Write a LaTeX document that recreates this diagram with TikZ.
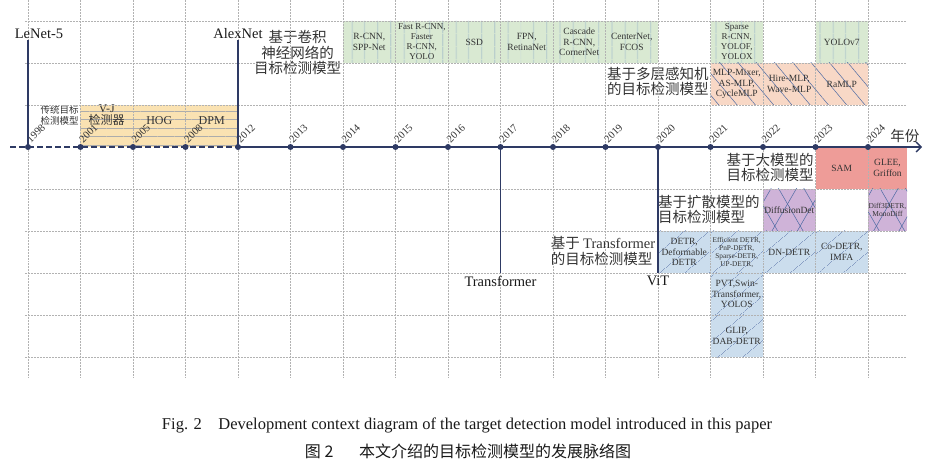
\documentclass[tikz,border=0pt]{standalone}
\usepackage{fontspec}
\setmainfont{Liberation Serif}
\newfontfamily\cjk{Noto Sans CJK SC}
\usetikzlibrary{arrows.meta,positioning,patterns.meta}

\definecolor{axisnavy}{HTML}{2E3A64}
\definecolor{tradfill}{HTML}{FAE2B2}
\definecolor{cnnfill}{HTML}{D9E9D2}
\definecolor{cnnline}{HTML}{7C9CC2}
\definecolor{mlpfill}{HTML}{F8D8C6}
\definecolor{bigfill}{HTML}{EE9C98}
\definecolor{difffill}{HTML}{CFB3D8}
\definecolor{trsfill}{HTML}{CBDDED}
\definecolor{hatchblue}{HTML}{4D6AA3}

\tikzset{
  gridline/.style={gray!60, densely dotted, line width=0.5pt},
  axisline/.style={axisnavy, line width=1.3pt},
  milestone/.style={axisnavy, line width=1.4pt},
  yeardot/.style={circle, fill=axisnavy, inner sep=0pt, minimum size=6pt},
  yearlab/.style={rotate=45, anchor=south west, inner sep=1pt, text=black!80, font=\fontsize{10.5}{10.5}\selectfont},
  mslab/.style={inner sep=1pt, text=black!90, font=\fontsize{14.5}{15}\selectfont},
  catlab/.style={inner sep=0pt, text=black!80, font=\cjk\fontsize{14.5}{15.5}\selectfont},
  cellbox/.style={minimum width=52.5pt, minimum height=42pt, inner sep=0pt, outer sep=0pt,
    align=center, text=black!80, font=\fontsize{9.5}{10.5}\selectfont},
  narrow/.style={minimum width=39pt},
  tradbox/.style={cellbox, minimum width=157.5pt, fill=tradfill,
    postaction={pattern={Lines[angle=0,distance=8.5pt,line width=0.6pt]}, pattern color=gray!65}},
  tradtext/.style={inner sep=0pt, align=center, text=black!80, font=\fontsize{12}{12}\selectfont},
  cnncell/.style={cellbox, fill=cnnfill,
    postaction={pattern={Lines[angle=90,distance=13pt,line width=0.6pt]}, pattern color=cnnline}},
  mlpcell/.style={cellbox, fill=mlpfill,
    postaction={pattern={Lines[angle=-50,distance=14pt,line width=0.5pt]}, pattern color=hatchblue}},
  bigcell/.style={cellbox, fill=bigfill},
  diffcell/.style={cellbox, fill=difffill,
    postaction={pattern={Lines[angle=60,distance=22pt,line width=0.5pt]}, pattern color=hatchblue},
    postaction={pattern={Lines[angle=120,distance=22pt,line width=0.5pt]}, pattern color=hatchblue}},
  trscell/.style={cellbox, fill=trsfill,
    postaction={pattern={Lines[angle=40,distance=17pt,line width=0.5pt]}, pattern color=hatchblue}},
}

\begin{document}
\begin{tikzpicture}[x=52.5pt, y=42pt, >=stealth]
  \useasboundingbox (-0.5333,-7.6429) rectangle (17.2,3.5);

  % Traditional models
  \node[tradbox] (tradbox) at (2.5,0.5) {};
  \node[tradtext] (vj)  at (1.5,0.76) {V-J\\{\cjk 检测器}};
  \node[tradtext] (hog) at (2.5,0.64) {HOG};
  \node[tradtext] (dpm) at (3.5,0.64) {DPM};
  \node[inner sep=0pt, anchor=east, align=center, text=black!80, font=\cjk\fontsize{9.5}{11}\selectfont]
    (tradlab) at (0.97,0.76) {传统目标\\检测模型};

  % CNN based models
  \node[cnncell] (rcnn)      at (6.5,2.5)  {R-CNN,\\SPP-Net};
  \node[cnncell, font=\fontsize{9}{10}\selectfont] (fastrcnn) at (7.5,2.5) {Fast R-CNN,\\Faster\\R-CNN,\\YOLO};
  \node[cnncell] (ssd)       at (8.5,2.5)  {SSD};
  \node[cnncell] (fpn)       at (9.5,2.5)  {FPN,\\RetinaNet};
  \node[cnncell] (cascade)   at (10.5,2.5) {Cascade\\R-CNN,\\CornerNet};
  \node[cnncell] (centernet) at (11.5,2.5) {CenterNet,\\FCOS};
  \node[cnncell, font=\fontsize{9}{10}\selectfont] (sparse) at (13.5,2.5) {Sparse\\R-CNN,\\YOLOF,\\YOLOX};
  \node[cnncell] (yolov7)    at (15.5,2.5) {YOLOv7};
  \node[catlab, anchor=east, align=center] (cnnlab) at (5.97,2.24) {基于卷积\\神经网络的\\目标检测模型};

  % MLP based models
  \node[mlpcell] (mlpmixer) at (13.5,1.5) {MLP-Mixer,\\AS-MLP,\\CycleMLP};
  \node[mlpcell] (hiremlp)  at (14.5,1.5) {Hire-MLP,\\Wave-MLP};
  \node[mlpcell] (ramlp)    at (15.5,1.5) {RaMLP};
  \node[catlab, anchor=east, align=left] (mlplab) at (12.97,1.56) {基于多层感知机\\的目标检测模型};

  % Large models
  \node[bigcell] (sam)  at (15.5,-0.5) {SAM};
  \node[bigcell, narrow] (glee) at (16.3714,-0.5) {GLEE,\\Griffon};
  \node[catlab, anchor=east, align=left] (biglab) at (14.97,-0.49) {基于大模型的\\目标检测模型};

  % Diffusion models
  \node[diffcell] (diffdet) at (14.5,-1.5) {DiffusionDet};
  \node[diffcell, narrow, font=\fontsize{7.5}{8.5}\selectfont] (diff3d) at (16.3714,-1.5) {Diff3DETR,\\MonoDiff};
  \node[catlab, anchor=west, align=left] (difflab) at (12.0,-1.49) {基于扩散模型的\\目标检测模型};

  % Transformer based models
  \node[trscell] (detr)    at (12.5,-2.5) {DETR,\\Deformable\\DETR};
  \node[trscell, font=\fontsize{7.3}{8}\selectfont] (effdetr) at (13.5,-2.5) {Efficient DETR,\\PnP-DETR,\\Sparse-DETR,\\UP-DETR,};
  \node[trscell] (dndetr)  at (14.5,-2.5) {DN-DETR};
  \node[trscell] (codetr)  at (15.5,-2.5) {Co-DETR,\\IMFA};
  \node[trscell] (pvt)     at (13.5,-3.5) {PVT,Swin-\\Transformer,\\YOLOS};
  \node[trscell] (glip)    at (13.5,-4.5) {GLIP,\\DAB-DETR};
  \node[catlab, anchor=east, align=left] (trslab) at (11.95,-2.48) {基于 {\rmfamily Transformer}\\的目标检测模型};

  % grid
  \foreach \i in {0,...,16}
    \draw[gridline] (\i,3.5) -- (\i,-5.5);
  \foreach \j in {3,2,1,-1,-2,-3,-4,-5}
    \draw[gridline] (-0.06,\j) -- (16.74,\j);

  % time axis
  \foreach \yr [count=\i from 0] in {1998,2001,2005,2008,2012,2013,2014,2015,2016,2017,2018,2019,2020,2021,2022,2023,2024} {
    \node[yeardot] (y\yr) at (\i,0) {};
    \node[yearlab] (t\yr) at ([shift={(3pt,2pt)}]y\yr.center) {\yr};
  }
  \coordinate (axstart) at (-0.34,0);
  \coordinate (axend) at (17.03,0);
  \draw[axisline, dash pattern=on 6pt off 3pt] (axstart) -- (y2012.center);
  \draw[axisline, -{Straight Barb[length=5pt,width=10pt]}] (y2012.center) -- (axend);
  \node[catlab] (yearword) at (16.7,0.27) {年份};

  % milestones
  \node[mslab, anchor=south] (lenet) at (0.21,2.55) {LeNet-5};
  \node[mslab, anchor=south] (alexnet) at (4,2.55) {AlexNet};
  \node[mslab, anchor=north, inner sep=3pt] (transformer) at (9,-3.0) {Transformer};
  \node[mslab, anchor=north, inner sep=3pt] (vit) at (12,-3.0) {ViT};
  \draw[milestone] (y1998.center) -- (y1998.center |- lenet.south);
  \draw[milestone] (y2012.center) -- (alexnet.south);
  \draw[milestone] (y2017.center) -- (transformer.north);
  \draw[milestone] (y2020.center) -- (vit.north);

  % caption
  \node[text=black!90, font=\fontsize{16.5}{17}\selectfont] (capen) at (8.362,-6.619)
    {Fig. 2\hspace{1em}Development context diagram of the target detection model introduced in this paper};
  \node[text=black!90, font=\cjk\fontsize{16}{17}\selectfont] (capzh) at (8.381,-7.238)
    {图 2\hspace{1.6em}本文介绍的目标检测模型的发展脉络图};
\end{tikzpicture}
\end{document}
